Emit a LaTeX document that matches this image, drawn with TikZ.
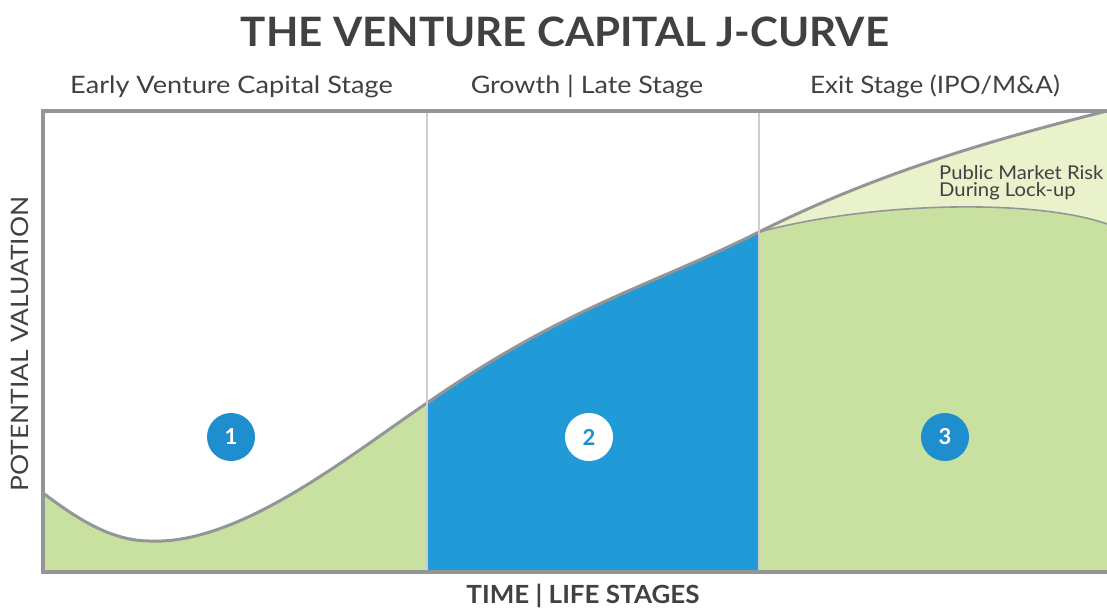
\documentclass[tikz,border=0pt]{standalone}
\usepackage{fontspec}
\setmainfont{Lato}
\newfontfamily\latobold{Lato Bold}
\definecolor{txtgray}{HTML}{414042}
\definecolor{linegray}{HTML}{939598}
\definecolor{divgray}{HTML}{CDCDCF}
\definecolor{vblue}{HTML}{219BD7}
\definecolor{cblue}{HTML}{1F8ECE}
\definecolor{vgreen}{HTML}{C9E1A0}
\definecolor{lgreen}{HTML}{EAF2CC}
\tikzset{
  headtxt/.style={anchor=base,text=txtgray,font=\fontsize{24}{24}\selectfont,inner sep=0pt},
  notetxt/.style={anchor=base west,text=txtgray,font=\fontsize{19}{19}\selectfont,inner sep=0pt},
  numcircle/.style={circle,minimum size=48pt,inner sep=0pt,font=\latobold\fontsize{22}{22}\selectfont},
}
\begin{document}
\begin{tikzpicture}[x=1pt,y=-1pt]
\useasboundingbox (0,0) rectangle (1107,608);
% fills under the upper curve
\begin{scope}
\clip (43,572) -- (43,493) .. controls (75,517) and (110,541) .. (150,541)
  .. controls (240,545) and (350,455) .. (427,403)
  .. controls (567,306) and (649,287) .. (759,232)
  .. controls (879,172) and (997,138.5) .. (1107,111) -- (1107,572) -- cycle;
\fill[vgreen] (43,100) rectangle (427,572);
\fill[vblue] (427,100) rectangle (759,572);
\fill[lgreen] (759,100) rectangle (1107,572);
\fill[vgreen] (759,572) -- (759,232) .. controls (880,200) and (1040,200) .. (1107,224) -- (1107,572) -- cycle;
\end{scope}
% lower curve
\coordinate (lc0) at (759,232); \coordinate (lc1) at (1107,224);
\draw[linegray,line width=1.6pt] (lc0) .. controls (880,200) and (1040,200) .. (lc1);
% upper curve
\coordinate (u0) at (43,493); \coordinate (u1) at (150,541); \coordinate (u2) at (427,403);
\coordinate (u3) at (759,232); \coordinate (u4) at (1107,111);
\draw[linegray,line width=3pt] (u0) .. controls (75,517) and (110,541) .. (u1)
  .. controls (240,545) and (350,455) .. (u2)
  .. controls (567,306) and (649,287) .. (u3)
  .. controls (879,172) and (997,138.5) .. (u4);
% dividers
\coordinate (d1t) at (427,111); \coordinate (d1b) at (427,572);
\coordinate (d2t) at (759,111); \coordinate (d2b) at (759,572);
\draw[divgray,line width=2.5pt] (d1t) -- (d1b);
\draw[divgray,line width=2.5pt] (d2t) -- (d2b);
% frame
\coordinate (tr) at (1107,111); \coordinate (tl) at (43,111);
\coordinate (bl) at (43,572); \coordinate (br) at (1107,572);
\draw[linegray,line width=4pt] (tr) -- (tl) -- (bl) -- (br);
% title
\node[anchor=base,text=txtgray,font=\latobold\fontsize{40.5}{40.5}\selectfont,inner sep=0pt] (title) at (565,46.7) {\scalebox{1.04}[1]{THE VENTURE CAPITAL J-CURVE}};
% headers
\node[headtxt] (h1) at (231.5,93.5) {\scalebox{1.13}[1]{Early Venture Capital Stage}};
\node[headtxt] (h2) at (587,93.5) {\scalebox{1.12}[1]{Growth | Late Stage}};
\node[headtxt] (h3) at (935,93.5) {\scalebox{1.085}[1]{Exit Stage (IPO/M\&A)}};
% axes labels
\node[anchor=base,text=txtgray,font=\latobold\fontsize{25}{25}\selectfont,inner sep=0pt] (xlab) at (583,603.5) {\scalebox{1.04}[1]{TIME | LIFE STAGES}};
\node[anchor=base,rotate=90,text=txtgray,font=\fontsize{24}{24}\selectfont,inner sep=0pt] (ylab) at (28.5,344) {\scalebox{1.1}[1]{POTENTIAL VALUATION}};
% lock-up note
\node[notetxt] (risk1) at (939,179.5) {\scalebox{1.065}[1]{Public Market Risk}};
\node[notetxt] (risk2) at (939,196.5) {\scalebox{1.065}[1]{During Lock-up}};
% numbered circles
\node[numcircle,fill=cblue,text=white] (c1) at (231,437) {1};
\node[numcircle,fill=white,text=cblue] (c2) at (589,437) {2};
\node[numcircle,fill=cblue,text=white] (c3) at (945,437) {3};
\end{tikzpicture}
\end{document}
